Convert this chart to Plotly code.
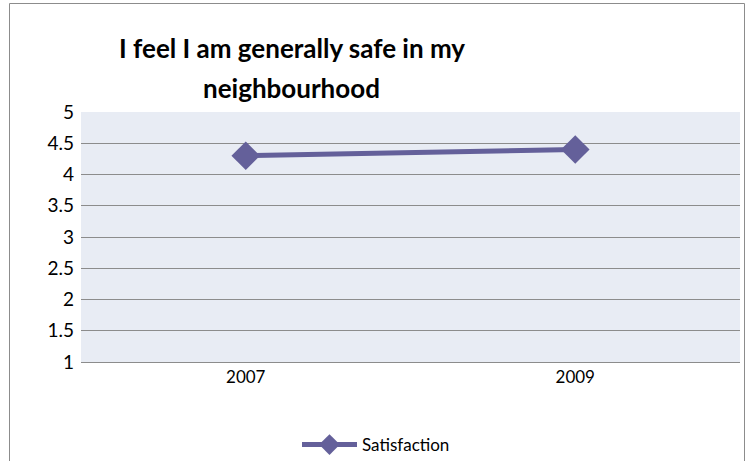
import plotly.graph_objects as go

years = ["2007", "2009"]
satisfaction = [4.3, 4.4]
y_ticks = [1, 1.5, 2, 2.5, 3, 3.5, 4, 4.5, 5]
y_tick_labels = ["1", "1.5", "2", "2.5", "3", "3.5", "4", "4.5", "5"]

W, H = 747, 461
ml, mr, mt, mb = 81, 7, 112, 99
pw, ph = W - ml - mr, H - mt - mb

def px(x):
    return (x - ml) / pw

def py(y):
    return (H - mb - y) / ph

font_main = "Lato, Open Sans, Arial, sans-serif"
line_color = "#64609A"

fig = go.Figure()
fig.add_trace(go.Scatter(
    x=years, y=satisfaction, mode="lines+markers", name="Satisfaction",
    line=dict(color=line_color, width=5),
    marker=dict(symbol="diamond", size=22, color=line_color),
))

fig.update_layout(
    width=W, height=H,
    margin=dict(l=ml, r=mr, t=mt, b=mb, autoexpand=False),
    paper_bgcolor="white",
    plot_bgcolor="#E8ECF4",
    showlegend=True,
    legend=dict(orientation="h", xref="container", yref="container",
                x=376 / W, xanchor="center", y=1 - 445 / H, yanchor="middle",
                font=dict(family=font_main, size=17, color="#000000"),
                itemwidth=55,
                bgcolor="rgba(0,0,0,0)"),
    xaxis=dict(type="category", showgrid=False, showline=True, linecolor="#8C8C8C", linewidth=1,
               ticks="", tickfont=dict(family=font_main, size=17, color="#000000"),
               range=[-0.5, 1.5], automargin=False),
    yaxis=dict(range=[1, 5], tickvals=y_ticks, ticktext=y_tick_labels, showgrid=True,
               gridcolor="#8C8C8C", gridwidth=1, zeroline=False, showline=False, ticks="",
               ticklabelstandoff=6, automargin=False,
               tickfont=dict(family=font_main, size=19, color="#000000")),
    shapes=[dict(type="rect", xref="paper", yref="paper",
                 x0=px(9.5), x1=px(744.5), y0=py(470), y1=py(3.5),
                 line=dict(color="#8C8C8C", width=1), fillcolor="rgba(0,0,0,0)", layer="below")],
    annotations=[
        dict(text="<b>I feel I am generally safe in my</b>", xref="paper", yref="paper",
             x=px(292), y=py(48), xanchor="center", yanchor="middle", showarrow=False,
             font=dict(family=font_main, size=26, color="#000000")),
        dict(text="<b>neighbourhood</b>", xref="paper", yref="paper",
             x=px(291), y=py(88), xanchor="center", yanchor="middle", showarrow=False,
             font=dict(family=font_main, size=26, color="#000000")),
    ],
)

fig.write_html("out.html", config={"displayModeBar": False},
               post_script="document.body.style.margin='0';document.body.style.overflow='hidden';")
